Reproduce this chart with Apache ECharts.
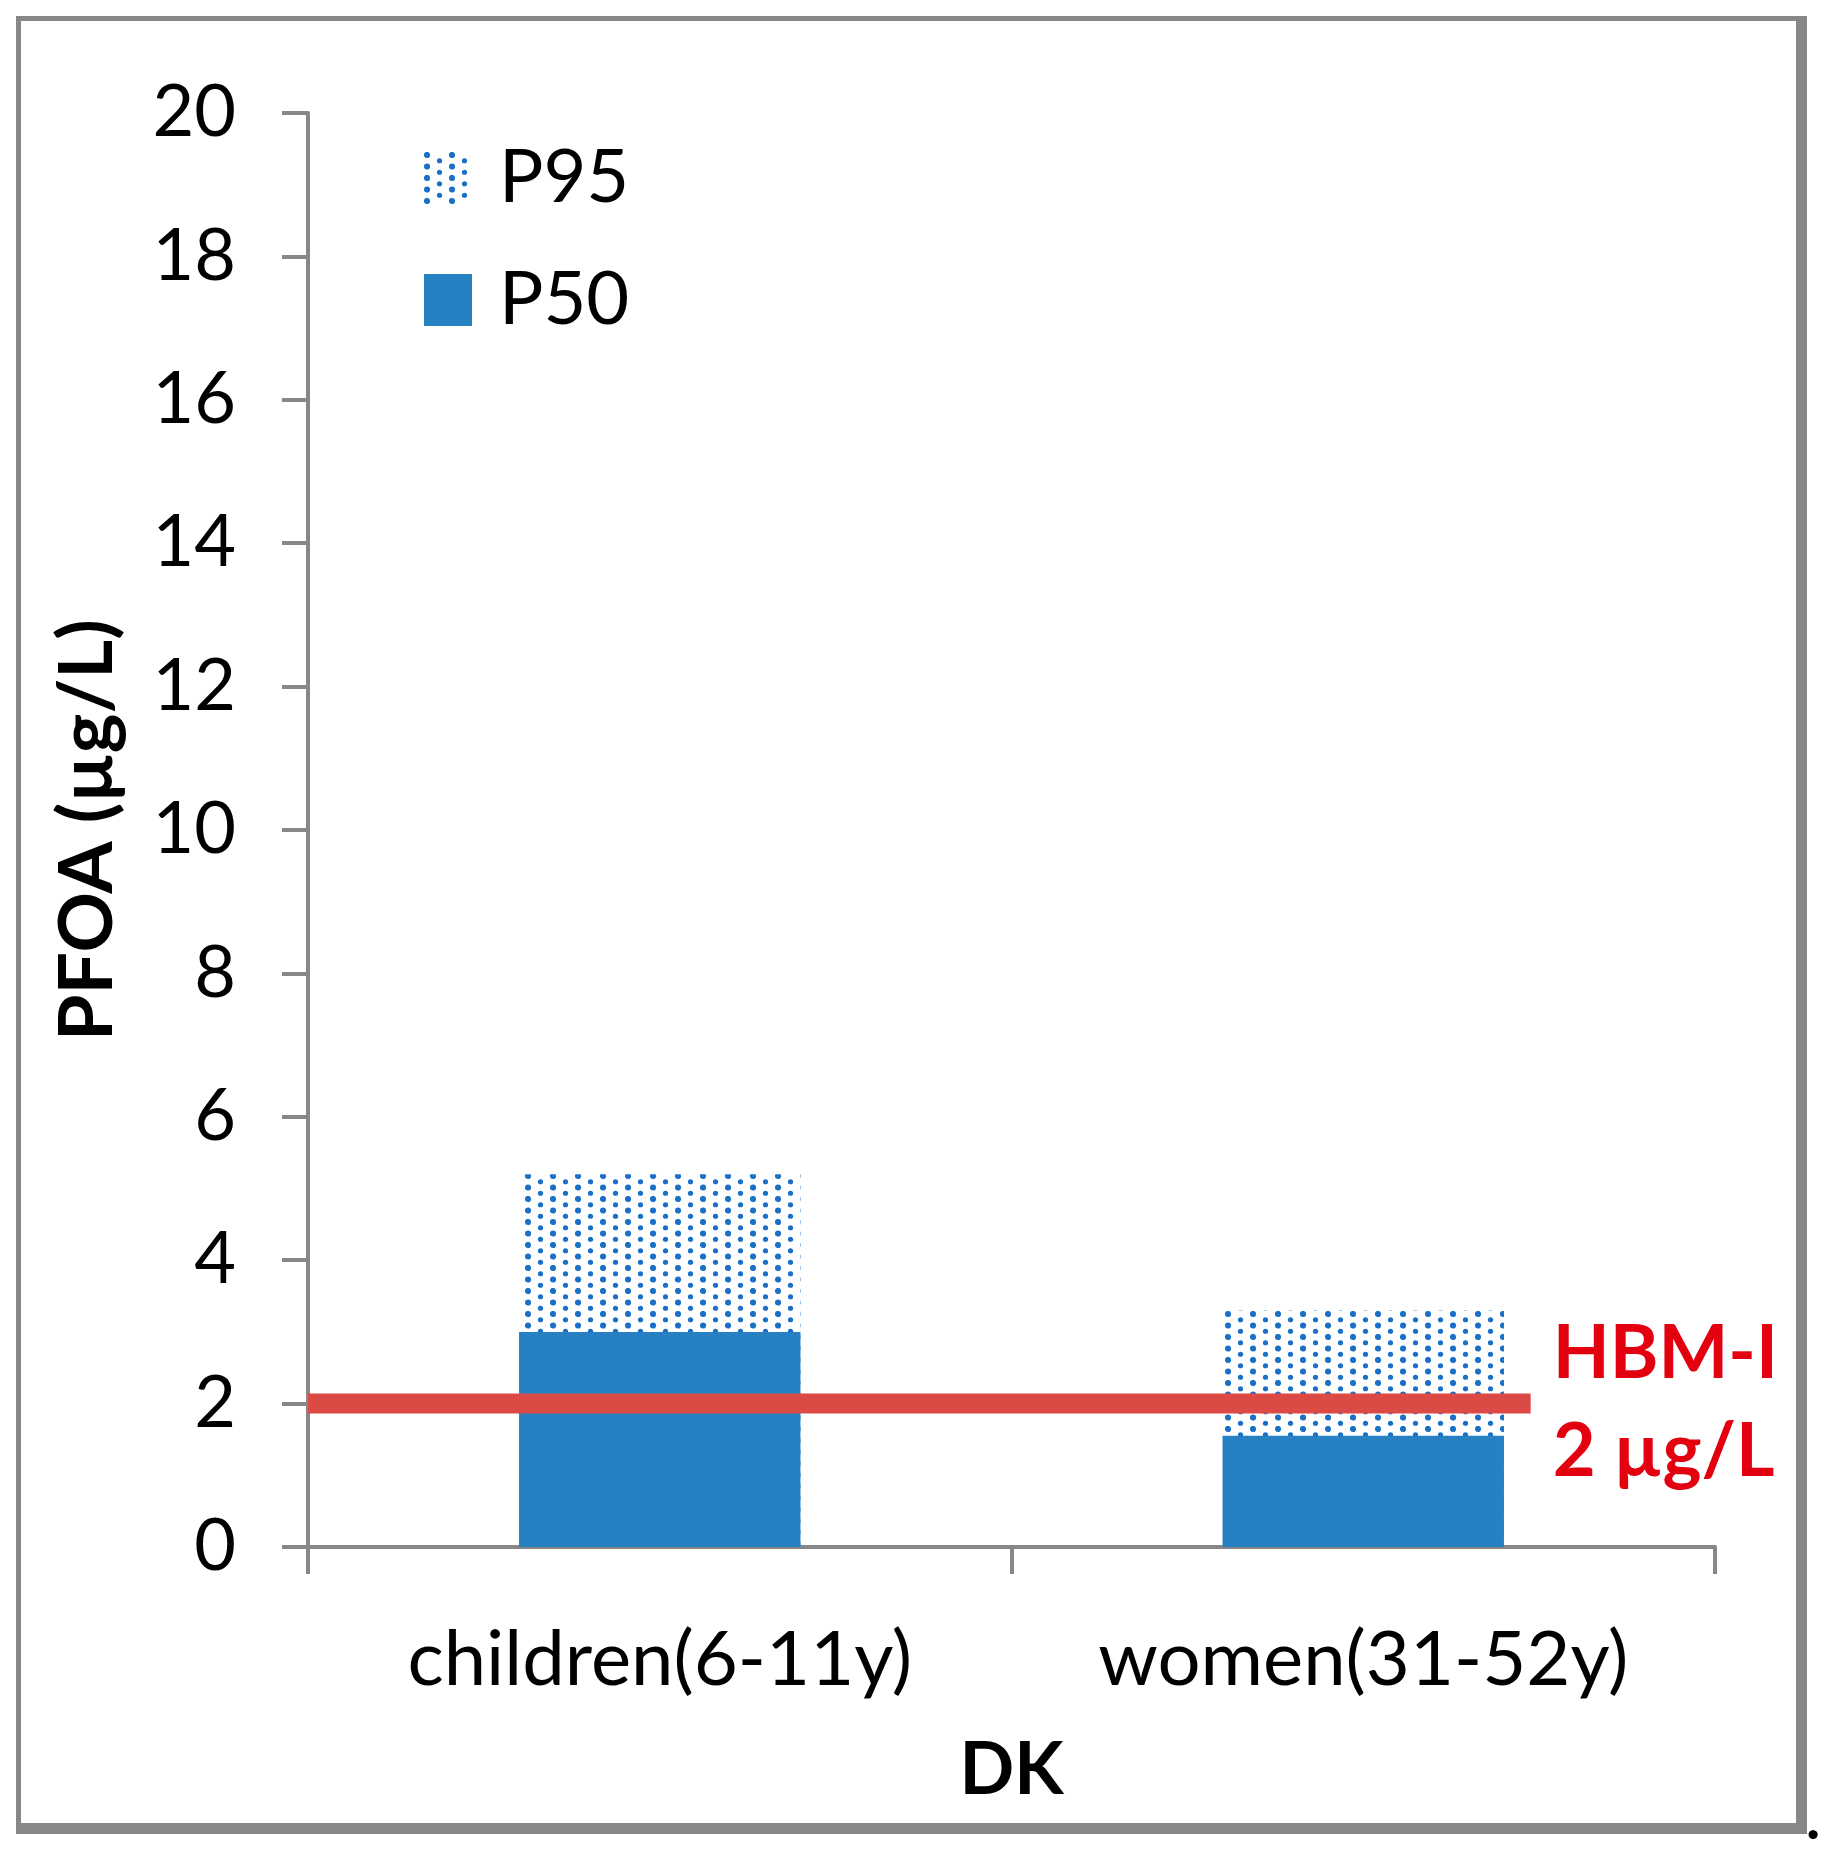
<!DOCTYPE html>
<html><head><meta charset="utf-8">
<script src="https://cdn.jsdelivr.net/npm/echarts@6/dist/echarts.min.js"></script>
<style>html,body{margin:0;padding:0;background:#fff}#c{width:1825px;height:1857px}</style>
</head><body><div id="c"></div>
<script>
// ---- data ----
const categories = ['children(6-11y)', 'women(31-52y)'];
const seriesNames = ['P95', 'P50'];
const p95Values = [5.2, 3.3];
const p50Values = [3.0, 1.55];
const hbmValue = 2;
const hbmText = ['HBM-I', '2 µg/L'];
const yAxisName = 'PFOA (µg/L)';
const xAxisName = 'DK';
const yMin = 0, yMax = 20, yInterval = 2;

// ---- dotted pattern for P95 ----
function makePattern() {
  const c = document.createElement('canvas');
  c.width = 25; c.height = 23;
  const g = c.getContext('2d');
  g.fillStyle = '#1a6fc6';
  const dots = [[3, 3, 3.1], [3, 14.5, 3.1], [15.5, 8.75, 2.6], [15.5, 20.25, 2.6]];
  dots.forEach(d => { g.beginPath(); g.arc(d[0], d[1], d[2], 0, Math.PI * 2); g.fill(); });
  return c;
}
const pattern = { image: makePattern(), repeat: 'repeat' };

const FONT = 'Lato';
const axisGray = '#878787';
const chart = echarts.init(document.getElementById('c'), null, { renderer: 'canvas' });
chart.setOption({
  backgroundColor: '#fff',
  animation: false,
  graphic: [
    { type: 'rect', z: -10, shape: { x: 16, y: 16, width: 1791, height: 1818 }, style: { fill: '#878787' } },
    { type: 'rect', z: -9, shape: { x: 21, y: 21, width: 1775, height: 1802 }, style: { fill: '#ffffff' } },
    { type: 'text', z: 10, style: { text: '.', x: 1806, y: 1850, font: 'bold 60px Lato', fill: '#000', textVerticalAlign: 'bottom' } }
  ],
  grid: { left: 308, top: 113, width: 1407, height: 1434 },
  legend: {
    data: seriesNames,
    orient: 'vertical',
    left: 419, top: 136,
    itemWidth: 48, itemHeight: 52,
    itemGap: 48,
    icon: 'rect',
    textStyle: { fontFamily: FONT, fontSize: 74, color: '#000', lineHeight: 74, padding: [0, 0, 0, 22] }
  },
  xAxis: [{
    type: 'category',
    data: categories,
    axisLine: { lineStyle: { color: axisGray, width: 4 } },
    axisTick: { show: true, length: 27, interval: 0, lineStyle: { color: axisGray, width: 4 } },
    axisLabel: { fontFamily: FONT, fontSize: 76, color: '#000', margin: 75, interval: 0 },
    name: xAxisName, nameLocation: 'middle', nameGap: 188,
    nameTextStyle: { fontFamily: FONT, fontSize: 72, fontWeight: 'bold', color: '#000' }
  }, {
    type: 'value', min: 0, max: 1, show: false
  }],
  yAxis: {
    type: 'value', min: yMin, max: yMax, interval: yInterval,
    axisLine: { show: true, lineStyle: { color: axisGray, width: 4 } },
    axisTick: { show: true, length: 26, lineStyle: { color: axisGray, width: 4 } },
    splitLine: { show: false },
    axisLabel: { fontFamily: FONT, fontSize: 72, color: '#000', margin: 72 },
    name: yAxisName, nameLocation: 'middle', nameGap: 183,
    nameTextStyle: { fontFamily: FONT, fontSize: 75, fontWeight: 'bold', color: '#000' }
  },
  series: [
    { name: seriesNames[0], type: 'bar', data: p95Values, barWidth: '40%', itemStyle: { color: pattern } },
    { name: seriesNames[1], type: 'bar', data: p50Values, barWidth: '40%', barGap: '-100%', itemStyle: { color: '#2680c2' } },
    {
      name: 'HBM-I', type: 'line', xAxisIndex: 1,
      data: [[0, hbmValue], [0.869, hbmValue]],
      symbol: 'none', lineStyle: { color: '#dc4a46', width: 20, cap: 'butt' },
      endLabel: {
        show: true, formatter: hbmText.join('\n'), distance: 22,
        fontFamily: FONT, fontSize: 74, fontWeight: 'bold', color: '#e3000f', lineHeight: 98,
        align: 'left', verticalAlign: 'middle'
      }
    }
  ]
});
</script></body></html>
